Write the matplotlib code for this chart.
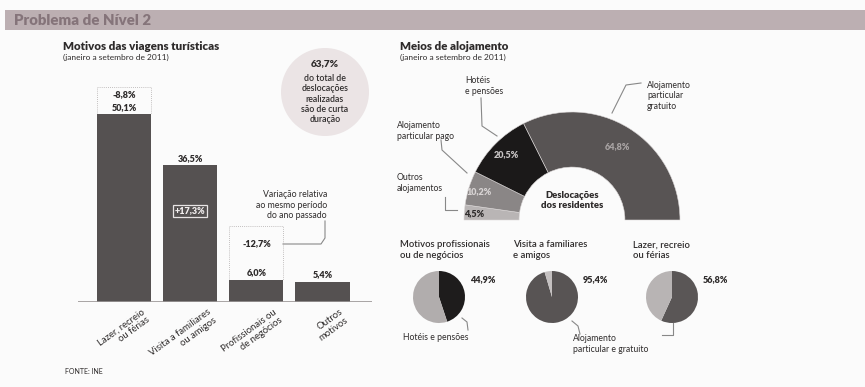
import matplotlib
matplotlib.use('Agg')
import matplotlib.pyplot as plt
import numpy as np
from matplotlib.patches import Rectangle, Circle

plt.rcParams['font.family'] = ['Lato', 'DejaVu Sans']

# --- data -------------------------------------------------------------
motivos = ['Lazer, recreio\nou férias', 'Visita a familiares\nou amigos',
           'Profissionais ou\nde negócios', 'Outros\nmotivos']
quota = [50.1, 36.5, 6.0, 5.4]
variacao = [-8.8, 17.3, -12.7, None]
curta_duracao = 63.7

alojamento = ['Outros\nalojamentos', 'Alojamento\nparticular pago',
              'Hotéis\ne pensões', 'Alojamento\nparticular\ngratuito']
aloj_pct = [4.5, 10.2, 20.5, 64.8]

pie_titulos = ['Motivos profissionais\nou de negócios',
               'Visita a familiares\ne amigos', 'Lazer, recreio\nou férias']
pie_valores = [44.9, 95.4, 56.8]

W, H = 865, 387
ink = '#2e2b2b'
bar_col = '#555151'
heavy = 'heavy'


def pct(v, sign=False):
    s = f'{v:+.1f}%' if sign else f'{v:.1f}%'
    return s.replace('.', ',')


fig = plt.figure(figsize=(W / 100, H / 100), dpi=100, facecolor='#fbfbfb')

# pixel overlay for headings, notes and leader lines
ax0 = fig.add_axes([0, 0, 1, 1])
ax0.set_xlim(0, W)
ax0.set_ylim(H, 0)
ax0.axis('off')

ax0.add_patch(Rectangle((5, 10), W - 5, 20, color='#bcafb2', lw=0))
ax0.text(14, 20.5, 'Problema de Nível 2', fontsize=10.8, fontweight=heavy,
         color='#85747a', va='center')

ax0.text(63, 46, 'Motivos das viagens turísticas', fontsize=8.3,
         fontweight=heavy, color=ink, va='center')
ax0.text(63, 57, '(janeiro a setembro de 2011)', fontsize=6, color=ink,
         va='center')
ax0.text(400, 46, 'Meios de alojamento', fontsize=8.3, fontweight=heavy,
         color=ink, va='center')
ax0.text(400, 57, '(janeiro a setembro de 2011)', fontsize=6, color=ink,
         va='center')
ax0.text(65, 372, 'FONTE: INE', fontsize=5, color=ink, va='center')

# circle note
ax0.add_patch(Circle((325, 92), 44, color='#ebe4e5', lw=0))
ax0.text(325, 64, pct(curta_duracao), fontsize=7.2, fontweight=heavy,
         color=ink, ha='center', va='center')
ax0.text(325, 99, 'do total de\ndeslocações\nrealizadas\nsão de curta\nduração',
         fontsize=6.3, color=ink, ha='center', va='center', linespacing=1.2,
         fontweight='semibold')

# note about the year-on-year variation
ax0.text(327, 205, 'Variação relativa\nao mesmo período\ndo ano passado',
         fontsize=6.3, color=ink, ha='right', va='center', linespacing=1.2)
ax0.plot([325, 325, 321, 283], [221, 238, 244, 244], color='#888', lw=0.8)

# --- bar chart --------------------------------------------------------
px_per = 3.75
axb = fig.add_axes([78 / W, (H - 302) / H, (372 - 78) / W, 225 / H])
axb.set_xlim(-0.7, 3.75)
axb.set_ylim(0, 225 / px_per)
x = np.arange(len(quota))
bw = 0.82
axb.bar(x, quota, width=bw, color=bar_col, zorder=2)
axb.axhline(0, color='#9a9696', lw=1.2, zorder=3)
for s in axb.spines.values():
    s.set_visible(False)
axb.set_yticks([])
axb.set_xticks(x + 0.25)
axb.set_xticklabels(motivos, rotation=36, ha='right', va='top',
                    rotation_mode='anchor', fontsize=6.8, color=ink,
                    multialignment='right', linespacing=1.1)
axb.tick_params(axis='x', length=0, pad=4)
axb.patch.set_alpha(0)

for xi, q in zip(x, quota):
    axb.text(xi, q + 0.6, pct(q), ha='center', va='bottom', fontsize=6.5,
             fontweight=heavy, color=ink)

# variation labels
axb.text(x[0], quota[0] + 5.2, pct(variacao[0]), ha='center', va='center',
         fontsize=6.5, fontweight=heavy, color=ink)
axb.text(x[1], quota[1] * 0.665, pct(variacao[1], sign=True), ha='center',
         va='center', fontsize=6.5, fontweight=heavy, color='#f2eeee',
         bbox=dict(boxstyle='square,pad=0.2', fc=bar_col, ec='#e8e4e4', lw=0.9))
axb.text(x[2], quota[2] + 9.5, pct(variacao[2]), ha='center', va='center',
         fontsize=6.5, fontweight=heavy, color=ink)

# dotted frames above the bars that carry a variation note
for xi, top in [(x[0], 57.3), (x[2], 20.3)]:
    q = quota[xi]
    axb.plot([xi - bw / 2, xi - bw / 2, xi + bw / 2, xi + bw / 2],
             [q, top, top, q], color='#b0acac', lw=0.6, ls=(0, (1, 1.5)),
             zorder=1)

# --- half donut -------------------------------------------------------
cx, cy, R = 572, 220, 108
axd = fig.add_axes([(cx - 130) / W, (H - (cy + 40)) / H, 260 / W, 170 / H])
colors = ['#b9b5b5', '#8a8686', '#1b1919', '#585454']
wedges, _ = axd.pie(aloj_pct + [sum(aloj_pct)], startangle=180,
                    counterclock=False, radius=1,
                    colors=colors + ['none'],
                    wedgeprops=dict(width=0.51, edgecolor='#dcd8d8', lw=0.4))
wedges[-1].set_visible(False)
axd.set_aspect('auto')
axd.set_xlim(-130 / R, 130 / R)
axd.set_ylim(-40 / R, 130 / R)

lab_r = [0.91, 0.9, 0.86, 0.8]
lab_c = [ink, '#d8d4d4', '#c8c4c4', '#a9a4a4']
for w, v, r, c in zip(wedges, aloj_pct, lab_r, lab_c):
    mid = np.deg2rad((w.theta1 + w.theta2) / 2)
    axd.text(r * np.cos(mid), r * np.sin(mid), pct(v), ha='center',
             va='center', fontsize=6.5, fontweight=heavy, color=c)
axd.text(0, 0.18, 'Deslocações\ndos residentes', ha='center', va='center',
         fontsize=6.8, fontweight=heavy, color=ink, linespacing=1.2)

# donut category labels with leader lines
ax0.text(397, 183, alojamento[0], fontsize=6.2, color=ink, va='center',
         linespacing=1.2)
ax0.plot([445, 445, 457], [197, 210, 210], color='#888', lw=0.8)
ax0.text(397, 131, alojamento[1], fontsize=6.2, color=ink, va='center',
         linespacing=1.2)
ax0.plot([441, 442, 467], [140, 150, 173], color='#888', lw=0.8)
ax0.text(465, 86, alojamento[2], fontsize=6.2, color=ink, va='center',
         linespacing=1.2)
ax0.plot([481, 482, 497], [98, 126, 136], color='#888', lw=0.8)
ax0.text(647, 96, alojamento[3], fontsize=6.2, color=ink, va='center',
         linespacing=1.2)
ax0.plot([641, 626, 612], [83, 85, 113], color='#888', lw=0.8)

# --- small pies -------------------------------------------------------
pie_cx = [439, 552, 672]
pie_cy = 297
pr = 26
pie_cols = [['#1e1c1c', '#b1adad'], ['#585454', '#c4c0c0'],
            ['#5a5656', '#b8b4b4']]
for i, (v, t, cols, pcx) in enumerate(zip(pie_valores, pie_titulos,
                                           pie_cols, pie_cx)):
    axp = fig.add_axes([(pcx - 32) / W, (H - (pie_cy + 32)) / H,
                        64 / W, 64 / H])
    axp.pie([v, 100 - v], startangle=90, counterclock=False, colors=cols,
            wedgeprops=dict(edgecolor='none'))
    axp.set_aspect('auto')
    axp.set_xlim(-32 / pr, 32 / pr)
    axp.set_ylim(-32 / pr, 32 / pr)
    ax0.text(pcx - 39, 250, t, fontsize=6.8, color=ink, va='center',
             linespacing=1.15, fontweight='semibold')
    ax0.text(pcx + 31, 280, pct(v), fontsize=6.5, fontweight=heavy,
             color=ink, va='center')

ax0.text(403, 337, 'Hotéis e pensões', fontsize=6.2, color=ink, va='center')
ax0.plot([462, 467, 468], [318, 322, 330], color='#888', lw=0.8)
ax0.text(573, 344, 'Alojamento\nparticular e gratuito', fontsize=6.2,
         color=ink, va='center', linespacing=1.2)
ax0.plot([572, 578, 580], [321, 326, 334], color='#888', lw=0.8)
ax0.plot([673, 673, 662], [323, 335, 335], color='#888', lw=0.8)

fig.savefig('out.png', dpi=100, facecolor=fig.get_facecolor())
